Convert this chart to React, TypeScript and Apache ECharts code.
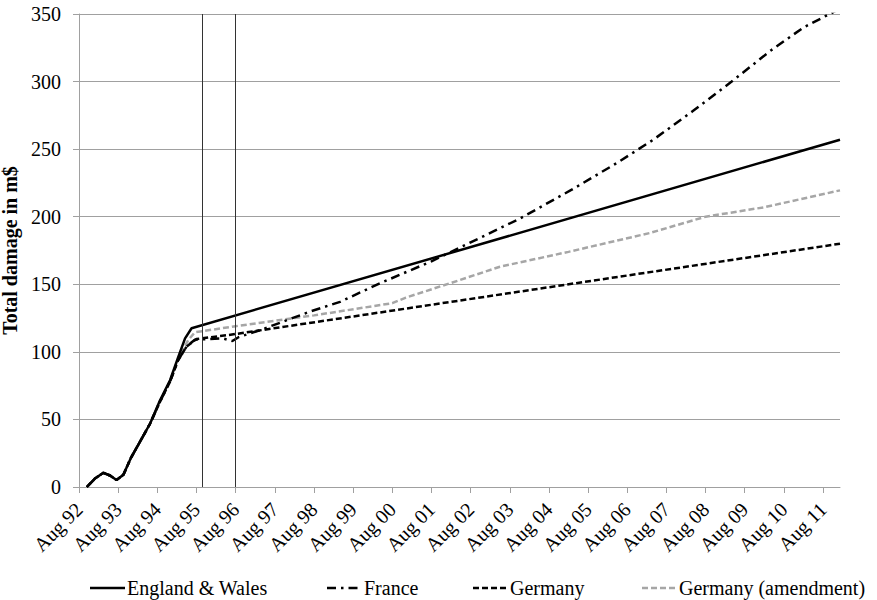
import React, { useEffect, useRef } from "react";
import * as echarts from "echarts";

// x positions are months after Aug 1992
const tickMonths = [0, 12, 24, 36, 48, 60, 72, 84, 96, 108, 120, 132, 144, 156, 168, 180, 192, 204, 216, 228];
const tickLabels = ["Aug 92", "Aug 93", "Aug 94", "Aug 95", "Aug 96", "Aug 97", "Aug 98", "Aug 99", "Aug 00", "Aug 01", "Aug 02", "Aug 03", "Aug 04", "Aug 05", "Aug 06", "Aug 07", "Aug 08", "Aug 09", "Aug 10", "Aug 11"];
const yTicks = [0, 50, 100, 150, 200, 250, 300, 350];

const englandMonths = [2.4, 5, 7.5, 9.5, 11.5, 13.6, 16, 18.7, 21.8, 24.8, 27.9, 30.4, 32.5, 34.5, 233.2];
const englandValues = [0, 6.5, 10.5, 8.5, 5.2, 9, 22, 33.5, 47, 64, 79, 96, 110, 117.5, 257];

const franceMonths = [2.4, 5, 7.5, 9.5, 11.5, 13.6, 16, 18.7, 21.8, 24.8, 27.9, 30.4, 33, 35.5, 44, 47, 49, 56, 71, 80, 92, 108, 120, 135, 151, 165, 176, 188, 200, 212, 222, 233.2];
const franceValues = [0, 6.5, 10.5, 8.5, 5.2, 9, 22, 33.5, 47, 63, 78, 94, 104, 109, 110, 108, 111, 116.5, 130, 137, 150.5, 167, 181, 198.5, 220, 240, 257, 278, 300, 323, 340, 354];

const germanyMonths = [2.4, 5, 7.5, 9.5, 11.5, 13.6, 16, 18.7, 21.8, 24.8, 27.9, 30.4, 33, 36, 46, 114, 233.2];
const germanyValues = [0, 6.5, 10.5, 8.5, 5.2, 9, 22, 33.5, 47, 63, 78, 94, 104, 109.5, 112.5, 137, 180];

const amendMonths = [2.4, 5, 7.5, 9.5, 11.5, 13.6, 16, 18.7, 21.8, 24.8, 27.9, 30.4, 33.5, 35.5, 48, 72, 96, 100, 114, 129, 150, 175, 192, 210, 233.2];
const amendValues = [0, 6.5, 10.5, 8.5, 5.2, 9, 22, 33.5, 47, 63.5, 78.5, 95, 108.8, 114.5, 119, 127, 136, 140, 151, 163, 174, 188, 200, 207, 219.5];

const markerMonths = [37.7, 48];

const seriesNames = ["England & Wales", "France", "Germany", "Germany (amendment)"];
const seriesColors = ["#000", "#000", "#000", "#a6a6a6"];
const seriesDashes: (number[] | null)[] = [null, [9, 5, 2.5, 5], [6, 3], [6, 3]];

const FONT = "'Liberation Serif', 'Times New Roman', Times, serif";

function zip(ms: number[], vs: number[]) {
  return ms.map((m, i) => [m, vs[i]]);
}

export default function App() {
  const ref = useRef<HTMLDivElement>(null);
  useEffect(() => {
    if (!ref.current) return;
    const chart = echarts.init(ref.current, undefined, { renderer: "svg" });
    const common = {
      type: "line",
      showSymbol: false,
      symbol: "none",
      smooth: false,
      clip: true,
    };
    const legendLefts = [90, 327, 473, 642];
    const legendGraphics: any[] = [];
    seriesNames.forEach((n, i) => {
      const x0 = legendLefts[i];
      legendGraphics.push({
        type: "line",
        shape: { x1: x0, y1: 588, x2: x0 + 35, y2: 588 },
        style: {
          stroke: seriesColors[i],
          lineWidth: 2.5,
          lineDash: seriesDashes[i] || undefined,
        },
      });
      legendGraphics.push({
        type: "text",
        x: x0 + 37,
        y: 588,
        style: {
          text: n,
          fill: "#000",
          font: `20px ${FONT}`,
          verticalAlign: "middle",
          align: "left",
        },
      });
    });
    const seriesData = [
      zip(englandMonths, englandValues),
      zip(franceMonths, franceValues),
      zip(germanyMonths, germanyValues),
      zip(amendMonths, amendValues),
    ];
    const lineSeries = seriesNames.map((n, i) => {
      const s: any = {
        ...common,
        name: n,
        data: seriesData[i],
        lineStyle: {
          color: seriesColors[i],
          width: 2.5,
          type: seriesDashes[i] || "solid",
        },
        itemStyle: { color: seriesColors[i] },
        z: i === 0 ? 4 : i === 3 ? 2 : 3,
      };
      if (i === 0) {
        s.markLine = {
          silent: true,
          symbol: "none",
          label: { show: false },
          lineStyle: { color: "#333", width: 1, type: "solid" },
          data: markerMonths.map((m) => ({ xAxis: m })),
        };
      }
      return s;
    });
    chart.setOption({
      animation: false,
      backgroundColor: "#fff",
      textStyle: { fontFamily: FONT },
      grid: { left: 79, right: 37, top: 14, bottom: 113, containLabel: false, outerBoundsMode: "none" },
      graphic: legendGraphics,
      xAxis: {
        type: "value",
        min: 0,
        max: 233.2,
        splitLine: { show: false },
        axisLine: { show: true, lineStyle: { color: "#a0a0a0", width: 1 } },
        axisTick: {
          show: true,
          length: 6,
          customValues: tickMonths,
          lineStyle: { color: "#a0a0a0" },
        },
        axisLabel: {
          customValues: tickMonths,
          rotate: 45,
          margin: 19,
          fontFamily: FONT,
          fontSize: 20,
          color: "#000",
          formatter: (v: number) => {
            const i = tickMonths.indexOf(Math.round(v));
            return i >= 0 ? tickLabels[i] : "";
          },
        },
      },
      yAxis: {
        type: "value",
        min: 0,
        max: 350,
        interval: 50,
        name: "Total damage in m$",
        nameLocation: "middle",
        nameGap: 46,
        nameTextStyle: { fontFamily: FONT, fontSize: 20, fontWeight: "bold", color: "#000" },
        axisLine: { show: true, lineStyle: { color: "#a0a0a0", width: 1 } },
        axisTick: { show: true, length: 6, lineStyle: { color: "#a0a0a0" } },
        axisLabel: {
          margin: 18,
          fontFamily: FONT,
          fontSize: 20,
          color: "#000",
          formatter: (v: number) => (yTicks.indexOf(v) >= 0 ? String(v) : ""),
        },
        splitLine: { show: true, lineStyle: { color: "#a0a0a0", width: 1 } },
      },
      series: lineSeries,
    });
    return () => chart.dispose();
  }, []);
  return (
    <div
      ref={ref}
      style={{ position: "fixed", left: 0, top: 0, width: 877, height: 600 }}
    />
  );
}
